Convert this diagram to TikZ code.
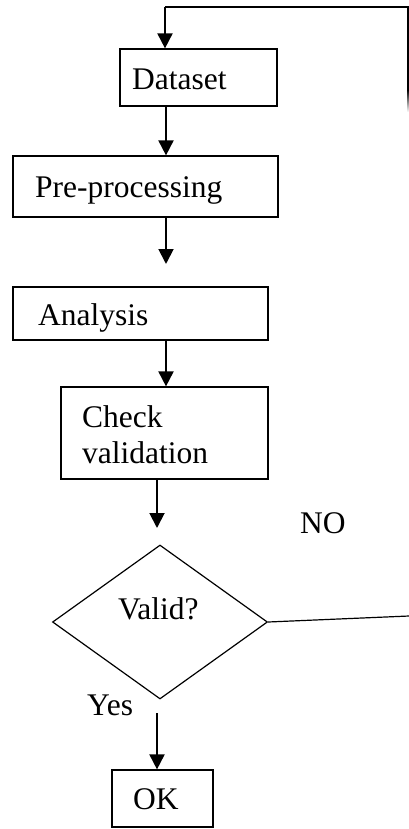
\documentclass[tikz,border=0pt]{standalone}
\usepackage{fontspec}
\setmainfont{Liberation Serif}
\usetikzlibrary{arrows.meta,shapes.geometric}
\begin{document}
\begin{tikzpicture}[x=1pt,y=-1pt,
  box/.style={draw, line width=1.2pt, rectangle, inner sep=0pt},
  lbl/.style={anchor=base west, inner sep=0pt, font=\fontsize{31.5}{36}\selectfont},
  flow/.style={line width=1.9pt, -{Triangle[length=15pt,width=15pt]}},
  thin/.style={line width=1.2pt}]
\useasboundingbox (0,0) rectangle (409,829);

% process boxes
\node[box, minimum width=157pt, minimum height=57pt] (ds) at (198.5,77.5) {};
\node[box, minimum width=265pt, minimum height=61pt] (pp) at (145.5,186.5) {};
\node[box, minimum width=255pt, minimum height=53pt] (an) at (140.5,313.5) {};
\node[box, minimum width=207pt, minimum height=92pt] (ck) at (164.5,433) {};
\node[box, minimum width=101pt, minimum height=57pt] (ok) at (162.5,798.5) {};
\node[draw, diamond, line width=1.2pt, minimum width=215pt, minimum height=154pt, inner sep=0pt] (valid) at (160,622) {};

% texts
\node[lbl] (tds) at (132,90) {Dataset};
\node[lbl] (tpp) at (35,197) {Pre-processing};
\node[lbl] (tan) at (38,325) {Analysis};
\node[lbl] (tck1) at (82,427) {Check};
\node[lbl] (tck2) at (82,463) {validation};
\node[lbl] (tva) at (118,619) {Valid?};
\node[lbl] (tyes) at (87,715) {Yes};
\node[lbl] (tok) at (133,809) {OK};
\node[lbl] (tno) at (300,533) {NO};

% helper coordinates
\coordinate (xa) at (166,0);
\coordinate (xb) at (157,0);
\coordinate (tipA) at (166,264);
\coordinate (tipC) at (157,528);
\coordinate (yesstart) at (157,713);
\coordinate (loopend) at (408,90);
\coordinate (loopTR) at (408,7);
\coordinate (loopTL) at (165,7);
\coordinate (noend) at (409,616);

% main flow
\draw[flow] (ds.south -| xa) -- (pp.north -| xa);
\draw[flow] (pp.south -| xa) -- (tipA);
\draw[flow] (an.south -| xa) -- (ck.north -| xa);
\draw[flow] (ck.south -| xb) -- (tipC);
\draw[flow] (yesstart) -- (ok.north -| yesstart);

% feedback loop
\draw[line width=1.6pt] (loopend) -- (loopTR) -- (loopTL);
\draw[flow] (loopTL) -- (ds.north -| loopTL);
\shade[top color=black, bottom color=white] (407.2,90) rectangle (408.8,112);
\draw[thin] (valid.east) -- (noend);
\end{tikzpicture}
\end{document}
